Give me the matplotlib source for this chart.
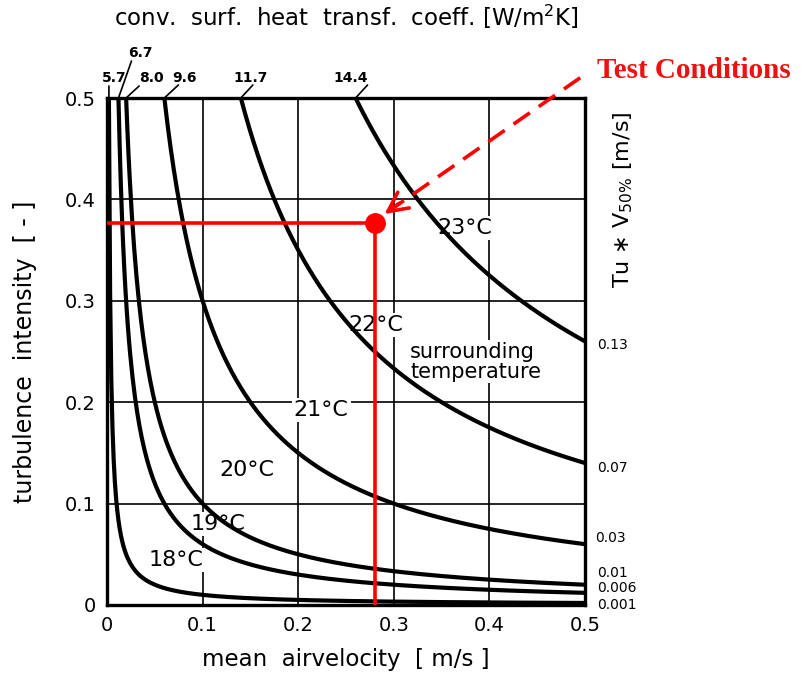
import numpy as np
import matplotlib
matplotlib.use("Agg")
import matplotlib.pyplot as plt

# one curve per Tu*V50% value, with its heat transfer coefficient and room temperature
tu_v = [0.001, 0.006, 0.01, 0.03, 0.07, 0.13]
tu_v_labels = ["0.001", "0.006", "0.01", "0.03", "0.07", "0.13"]
h_conv = ["5.7", "6.7", "8.0", "9.6", "11.7", "14.4"]
temps = ["18°C", "19°C", "20°C", "21°C", "22°C", "23°C"]

# measured test point
test_v = 0.28
test_tu = 0.377

ticks = [0, 0.1, 0.2, 0.3, 0.4, 0.5]
tick_labels = ["0", "0.1", "0.2", "0.3", "0.4", "0.5"]

# label placement
temp_pos = [(0.072, 0.044), (0.116, 0.080), (0.146, 0.133),
            (0.224, 0.192), (0.281, 0.276), (0.374, 0.372)]
top_leader = [(0, 12), (13, 37), (13, 12), (14, 13), (12, 13), (12, 13)]
top_text = [(5, 20), (22, 45), (25, 20), (20, 20), (10, 20), (-5, 20)]
right_text = [(12, -2), (12, 5), (12, 12), (10, 6), (12, -5), (12, -4)]

fig = plt.figure(figsize=(8.06, 6.75), dpi=100)
ax = fig.add_axes([107 / 806, 70 / 675, 478 / 806, 507 / 675])
ax.set_xlim(0, 0.5)
ax.set_ylim(0, 0.5)

for t in ticks[1:-1]:
    ax.axvline(t, color="black", lw=1.2, zorder=1)
    ax.axhline(t, color="black", lw=1.2, zorder=1)

for i, c in enumerate(tu_v):
    v = np.linspace(c / 0.5, 0.5, 400)
    ax.plot(v, c / v, color="black", lw=3, solid_capstyle="butt", zorder=3)

    x_top = c / 0.5
    ax.annotate("", xy=(x_top, 0.5), xytext=top_leader[i], textcoords="offset pixels",
                arrowprops=dict(arrowstyle="-", lw=1.2, color="black",
                                shrinkA=0, shrinkB=0), annotation_clip=False)
    ax.annotate(h_conv[i], xy=(x_top, 0.5), xytext=top_text[i], textcoords="offset pixels",
                ha="center", va="center", fontsize=10, fontweight="bold",
                annotation_clip=False)

    ax.annotate(tu_v_labels[i], xy=(0.5, c / 0.5), xytext=right_text[i],
                textcoords="offset pixels", ha="left", va="center", fontsize=10,
                annotation_clip=False)

    # white box hides the grid behind the label, curves stay on top
    tx, ty = temp_pos[i]
    ax.text(tx, ty, temps[i], ha="center", va="center", fontsize=16, zorder=2,
            bbox=dict(facecolor="white", edgecolor="none", pad=1.5))

ax.text(0.317, 0.24, "surrounding\ntemperature", ha="left", va="center", fontsize=15,
        linespacing=1.0, zorder=2, bbox=dict(facecolor="white", edgecolor="none", pad=1))

ax.set_xticks(ticks)
ax.set_xticklabels(tick_labels)
ax.set_yticks(ticks)
ax.set_yticklabels(tick_labels)
ax.tick_params(length=0, labelsize=14, pad=8)
for s in ax.spines.values():
    s.set_linewidth(2.4)
    s.set_zorder(5)

ax.set_xlabel("mean  airvelocity  [ m/s ]", fontsize=16.5, labelpad=9)
ax.set_ylabel("turbulence  intensity  [ - ]", fontsize=17, labelpad=20)
ax.set_title("conv.  surf.  heat  transf.  coeff. [W/m$^2$K]", fontsize=16.5, pad=52)

ax.text(1.08, 0.4, r"Tu $\ast$ V$_{50\%}$ [m/s]", transform=ax.get_yaxis_transform(),
        rotation=90, ha="center", va="center", fontsize=16)

# test conditions
ax.plot([0, test_v], [test_tu, test_tu], color="red", lw=2.6, zorder=6)
ax.plot([test_v, test_v], [test_tu, 0], color="red", lw=2.6, zorder=6)
ax.plot(test_v, test_tu, "o", color="red", ms=14, zorder=7)

tip = (0.288, 0.384)
start = (0.495, 0.52)
ax.plot([start[0], tip[0]], [start[1], tip[1]], color="red", lw=2.6,
        linestyle=(0, (5.5, 3)), clip_on=False, zorder=6)
ax.annotate("", xy=tip, xytext=(tip[0] + 0.02, tip[1] + 0.0138),
            arrowprops=dict(arrowstyle="->,head_length=1.0,head_width=0.5",
                            color="red", lw=2.6, mutation_scale=14), zorder=7)

fig.text(597 / 806, 1 - 70 / 675, "Test Conditions", color="#ee1111", fontsize=21,
         fontweight="bold", family="Liberation Serif", ha="left", va="center")

fig.savefig("out.png", dpi=100)
